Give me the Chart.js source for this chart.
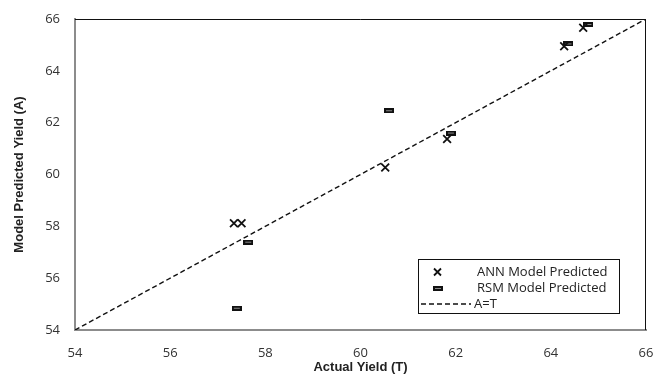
<!DOCTYPE html>
<html>
<head>
<meta charset="utf-8">
<script src="https://cdn.jsdelivr.net/npm/chart.js@4.4.0/dist/chart.umd.min.js"></script>
<style>
  html, body { margin: 0; padding: 0; background: #fff; }
  #wrap { width: 658px; height: 379px; }
</style>
</head>
<body>
<div id="wrap"><canvas id="yieldChart"></canvas></div>
<script>
// values
var annActual    = [57.34, 57.50, 60.52, 61.82, 64.28, 64.68];
var annPredicted = [58.12, 58.12, 60.27, 61.37, 64.95, 65.66];
var rsmActual    = [57.40, 57.64, 60.60, 61.90, 64.37, 64.79];
var rsmPredicted = [54.84, 57.39, 62.46, 61.60, 65.04, 65.79];
var lineEnds     = [54, 66];
var tickValues   = [54, 56, 58, 60, 62, 64, 66];
var seriesNames  = ['ANN Model Predicted', 'RSM Model Predicted', 'A=T'];

function pairs(xs, ys) {
  return xs.map(function (x, i) { return { x: x, y: ys[i] }; });
}

// little dash marker used for the RSM points
var dash = document.createElement('canvas');
dash.width = 10; dash.height = 5;
var dctx = dash.getContext('2d');
dctx.fillStyle = '#111';
dctx.fillRect(0, 0, 10, 5);
dctx.fillStyle = '#8a8a8a';
dctx.fillRect(2, 2, 6, 1);

var tickFont = { family: '"Open Sans", "Noto Sans", sans-serif', size: 13 };
var titleFont = { family: '"Liberation Sans Narrow", "Liberation Sans", Arial, sans-serif', size: 13, weight: 'bold' };

var framePlugin = {
  id: 'frame',
  afterDatasetsDraw: function (chart) {
    var a = chart.chartArea, c = chart.ctx;
    c.save();
    c.strokeStyle = '#111';
    c.lineWidth = 1;
    c.beginPath();
    c.moveTo(a.left, a.top + 0.5);
    c.lineTo(a.right - 0.5, a.top + 0.5);
    c.lineTo(a.right - 0.5, a.bottom);
    c.stroke();
    c.restore();
  }
};

var legendPlugin = {
  id: 'insideLegend',
  afterDraw: function (chart) {
    var c = chart.ctx;
    var bx = 418.5, by = 259.5, bw = 201, bh = 54;
    c.save();
    c.fillStyle = '#fff';
    c.fillRect(bx, by, bw, bh);
    c.strokeStyle = '#111';
    c.lineWidth = 1;
    c.strokeRect(bx, by, bw, bh);
    c.font = '13px "Open Sans", "Noto Sans", sans-serif';
    c.fillStyle = '#222';
    c.textBaseline = 'middle';
    var rows = [272, 288, 304];
    var tx = 477;
    // ANN
    c.lineWidth = 1.8;
    c.beginPath();
    c.moveTo(434, rows[0] - 3.5); c.lineTo(441, rows[0] + 3.5);
    c.moveTo(441, rows[0] - 3.5); c.lineTo(434, rows[0] + 3.5);
    c.stroke();
    c.fillText(chart.data.datasets[0].label, tx, rows[0]);
    // RSM
    c.drawImage(dash, 433, rows[1] - 2);
    c.fillText(chart.data.datasets[1].label, tx, rows[1]);
    // A=T
    c.lineWidth = 1.3;
    c.setLineDash([5, 3]);
    c.beginPath();
    c.moveTo(421, rows[2]); c.lineTo(471, rows[2]);
    c.stroke();
    c.setLineDash([]);
    c.fillText(chart.data.datasets[2].label, tx - 3, rows[2]);
    c.restore();
  }
};

var ctx = document.getElementById('yieldChart').getContext('2d');
new Chart(ctx, {
  type: 'scatter',
  data: {
    datasets: [
      {
        label: seriesNames[0],
        data: pairs(annActual, annPredicted),
        pointStyle: 'crossRot',
        radius: 5.5,
        borderColor: '#111',
        borderWidth: 1.8
      },
      {
        label: seriesNames[1],
        data: pairs(rsmActual, rsmPredicted),
        pointStyle: dash,
        radius: 5
      },
      {
        type: 'line',
        label: seriesNames[2],
        data: pairs(lineEnds, lineEnds),
        borderColor: '#111',
        borderWidth: 1.4,
        borderDash: [5, 3],
        pointRadius: 0,
        fill: false
      }
    ]
  },
  options: {
    responsive: true,
    maintainAspectRatio: false,
    animation: false,
    layout: { padding: { top: 19, right: 12, left: 0, bottom: 0 } },
    plugins: {
      legend: { display: false },
      tooltip: { enabled: false }
    },
    scales: {
      x: {
        type: 'linear',
        min: 54, max: 66,
        afterBuildTicks: function (s) { s.ticks = tickValues.map(function (v) { return { value: v }; }); },
        afterFit: function (s) { s.height = 49; s.paddingLeft = 0; s.paddingRight = 0; },
        grid: { display: false, drawTicks: false },
        border: { color: '#8c8c8c', width: 2 },
        ticks: { color: '#333', font: tickFont, padding: 15 },
        title: { display: true, text: 'Actual Yield (T)', color: '#222', font: titleFont, padding: { top: 8 } }
      },
      y: {
        type: 'linear',
        min: 54, max: 66,
        afterBuildTicks: function (s) { s.ticks = tickValues.map(function (v) { return { value: v }; }); },
        afterFit: function (s) { s.width = 75; s.paddingTop = 0; s.paddingBottom = 0; },
        grid: { display: false, drawTicks: false },
        border: { color: '#8c8c8c', width: 2 },
        ticks: { color: '#333', font: tickFont, padding: 15 },
        title: { display: true, text: 'Model Predicted Yield (A)', color: '#222', font: titleFont, padding: { top: 12, bottom: 0 } }
      }
    }
  },
  plugins: [framePlugin, legendPlugin]
});
</script>
</body>
</html>
